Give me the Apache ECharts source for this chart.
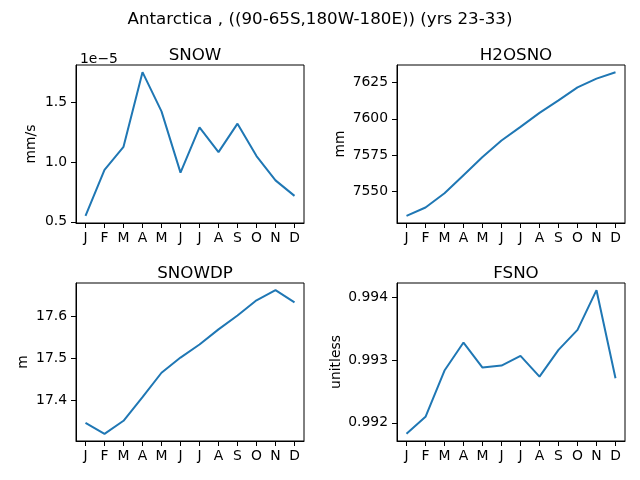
<!DOCTYPE html>
<html>
<head>
  <meta charset="UTF-8">
  <title>Antarctica snow</title>
  <script src="https://cdn.jsdelivr.net/npm/echarts@6/dist/echarts.min.js"></script>
  <style>
    html, body { margin: 0; padding: 0; background: #fff; }
    #chart { width: 640px; height: 480px; }
  </style>
</head>
<body>
<div id="chart"></div>
<script>
  var months = ['J', 'F', 'M', 'A', 'M', 'J', 'J', 'A', 'S', 'O', 'N', 'D'];

  // SNOW, mm/s
  var snow = [0.55e-5, 0.935e-5, 1.128e-5, 1.753e-5, 1.425e-5, 0.912e-5,
              1.29e-5, 1.083e-5, 1.322e-5, 1.05e-5, 0.847e-5, 0.717e-5];
  var snowTicks = [0.5e-5, 1.0e-5, 1.5e-5];

  // H2OSNO, mm
  var h2osno = [7533.3, 7539.0, 7548.8, 7561.2, 7573.7, 7585.1,
                7594.5, 7604.1, 7612.7, 7621.6, 7627.7, 7632.1];
  var h2osnoTicks = [7550, 7575, 7600, 7625];

  // SNOWDP, m
  var snowdp = [17.347, 17.321, 17.352, 17.408, 17.466, 17.502,
                17.533, 17.569, 17.602, 17.638, 17.662, 17.633];
  var snowdpTicks = [17.4, 17.5, 17.6];

  // FSNO, unitless
  var fsno = [0.991825, 0.992096, 0.992834, 0.993281, 0.992882, 0.992914,
              0.993069, 0.992738, 0.993164, 0.993483, 0.994116, 0.992710];
  var fsnoTicks = [0.992, 0.993, 0.994];

  var panels = [
    {title: 'SNOW', unit: 'mm/s', data: snow, ticks: snowTicks, gap: 38,
     fmt: function (v) { return (v / 1e-5).toFixed(1); },
     left: 76, top: 65, cx: 190},
    {title: 'H2OSNO', unit: 'mm', data: h2osno, ticks: h2osnoTicks, gap: 50,
     fmt: function (v) { return String(Math.round(v)); },
     left: 397, top: 65, cx: 511},
    {title: 'SNOWDP', unit: 'm', data: snowdp, ticks: snowdpTicks, gap: 46,
     fmt: function (v) { return v.toFixed(1); },
     left: 76, top: 283, cx: 190},
    {title: 'FSNO', unit: 'unitless', data: fsno, ticks: fsnoTicks, gap: 54,
     fmt: function (v) { return v.toFixed(3); },
     left: 397, top: 283, cx: 511}
  ];

  var font = 'DejaVu Sans';
  var grids = [], xAxes = [], yAxes = [], series = [];
  var titles = [{
    text: 'Antarctica , ((90-65S,180W-180E)) (yrs 23-33)',
    left: 'center', top: 6,
    textStyle: {fontFamily: font, fontSize: 16.7, fontWeight: 'normal', color: '#000'}
  }, {
    text: '1e\u22125', left: 75, top: 47,
    textStyle: {fontFamily: font, fontSize: 13.9, fontWeight: 'normal', color: '#000'}
  }];

  panels.forEach(function (p, i) {
    var lo = Math.min.apply(null, p.data), hi = Math.max.apply(null, p.data);
    var pad = (hi - lo) * 0.05;
    grids.push({left: p.left, top: p.top, width: 228, height: 158,
                show: true, borderColor: '#000', borderWidth: 1, containLabel: false});
    titles.push({
      text: p.title, left: p.cx, top: p.top - 23, textAlign: 'center',
      textStyle: {fontFamily: font, fontSize: 16.7, fontWeight: 'normal', color: '#000'}
    });
    xAxes.push({
      type: 'category', gridIndex: i, data: months, boundaryGap: true,
      axisLine: {show: true, lineStyle: {color: '#000', width: 1}},
      axisTick: {show: true, alignWithLabel: true, length: 5, lineStyle: {color: '#000'}},
      axisLabel: {fontFamily: font, fontSize: 13.9, color: '#000', margin: 8, interval: 0},
      splitLine: {show: false}
    });
    yAxes.push({
      type: 'value', gridIndex: i, min: lo - pad, max: hi + pad, scale: true,
      name: p.unit, nameLocation: 'middle', nameRotate: 90, nameGap: p.gap,
      nameTextStyle: {fontFamily: font, fontSize: 13.9, color: '#000'},
      axisLine: {show: true, lineStyle: {color: '#000', width: 1}},
      axisTick: {show: true, length: 5, customValues: p.ticks, lineStyle: {color: '#000'}},
      axisLabel: {fontFamily: font, fontSize: 13.9, color: '#000', margin: 9,
                  customValues: p.ticks, formatter: p.fmt},
      splitLine: {show: false}
    });
    series.push({
      type: 'line', xAxisIndex: i, yAxisIndex: i, data: p.data,
      showSymbol: false, symbol: 'none', animation: false,
      lineStyle: {color: '#1f77b4', width: 2}
    });
  });

  var chart = echarts.init(document.getElementById('chart'));
  chart.setOption({
    animation: false,
    title: titles,
    grid: grids,
    xAxis: xAxes,
    yAxis: yAxes,
    series: series
  });
</script>
</body>
</html>
